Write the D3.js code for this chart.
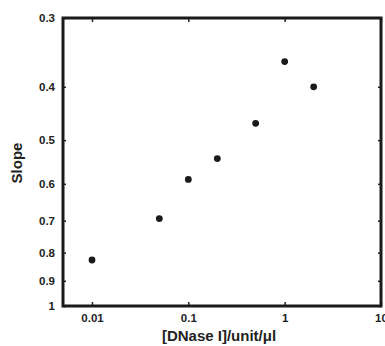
<!DOCTYPE html>
<html>
<head>
<meta charset="utf-8">
<script src="https://cdn.jsdelivr.net/npm/d3@7"></script>
<style>
  body { margin: 0; background: #fff; }
  text { font-family: "Liberation Sans", Arial, sans-serif; font-weight: bold; fill: #222; }
</style>
</head>
<body>
<div id="chart"></div>
<script>
// data
const dnase = [0.01, 0.05, 0.1, 0.2, 0.5, 1, 2];
const slope = [0.825, 0.694, 0.589, 0.540, 0.466, 0.360, 0.400];
const xTicks = [0.01, 0.1, 1, 10];
const yTicks = [0.3, 0.4, 0.5, 0.6, 0.7, 0.8, 0.9, 1];

const data = dnase.map((d, i) => ({x: d, y: slope[i]}));

const width = 385, height = 346;
const margin = {top: 18, right: 4, bottom: 40, left: 63};

const svg = d3.select("#chart").append("svg")
    .attr("width", width)
    .attr("height", height);

const xScale = d3.scaleLog()
    .domain([0.005, 10])
    .range([margin.left, width - margin.right]);

const yScale = d3.scaleLog()
    .domain([0.3, 1])
    .range([margin.top, height - margin.bottom]);

const fmt = d => String(d);

// bottom axis
svg.append("g")
    .attr("transform", `translate(0,${height - margin.bottom})`)
    .call(d3.axisBottom(xScale).tickValues(xTicks).tickFormat(fmt).tickSize(-4).tickPadding(8))
    .call(g => g.select(".domain").remove())
    .style("font-size", "11.5px");

// top mirror ticks
svg.append("g")
    .attr("transform", `translate(0,${margin.top})`)
    .call(d3.axisTop(xScale).tickValues(xTicks).tickFormat("").tickSize(-4))
    .call(g => g.select(".domain").remove());

// left axis
svg.append("g")
    .attr("transform", `translate(${margin.left},0)`)
    .call(d3.axisLeft(yScale).tickValues(yTicks).tickFormat(fmt).tickSize(-3).tickPadding(8))
    .call(g => g.select(".domain").remove())
    .style("font-size", "11.5px");

// right mirror ticks
svg.append("g")
    .attr("transform", `translate(${width - margin.right},0)`)
    .call(d3.axisRight(yScale).tickValues(yTicks).tickFormat("").tickSize(-3))
    .call(g => g.select(".domain").remove());

svg.selectAll(".tick line").attr("stroke", "#222").attr("stroke-width", 1.5);

// frame
svg.append("rect")
    .attr("x", margin.left)
    .attr("y", margin.top)
    .attr("width", width - margin.left - margin.right)
    .attr("height", height - margin.top - margin.bottom)
    .attr("fill", "none")
    .attr("stroke", "#1a1a1a")
    .attr("stroke-width", 3);

// axis labels
svg.append("text")
    .attr("transform", "rotate(-90)")
    .attr("x", -163)
    .attr("y", 22)
    .attr("text-anchor", "middle")
    .style("font-size", "15px")
    .text("Slope");

svg.append("text")
    .attr("x", 219)
    .attr("y", 341)
    .attr("text-anchor", "middle")
    .style("font-size", "15px")
    .text("[DNase I]/unit/μl");

// dots
svg.selectAll("circle")
    .data(data)
    .join("circle")
    .attr("cx", d => xScale(d.x))
    .attr("cy", d => yScale(d.y))
    .attr("r", 3.4)
    .attr("fill", "#1a1a1a");
</script>
</body>
</html>
